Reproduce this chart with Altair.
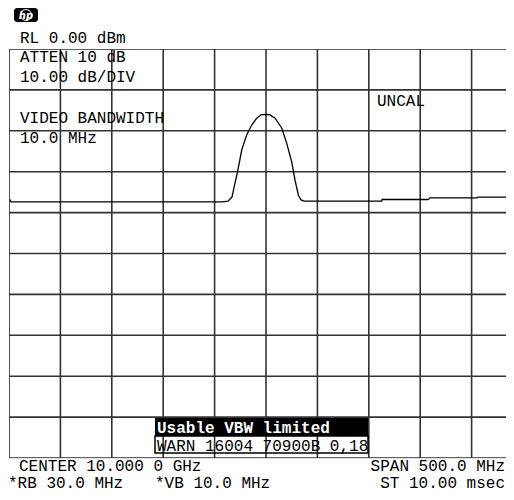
import altair as alt
import pandas as pd

# ---- data ----
grid_freq = [9750, 9800, 9850, 9900, 9950, 10000, 10050, 10100, 10150, 10200]  # MHz, 50 MHz/div
grid_level = [0, -10, -20, -30, -40, -50, -60, -70, -80, -90, -100]           # dBm, 10 dB/div

trace_freq = [9751.0, 9751.9, 9957.2, 9963.0, 9966.9, 9969.4, 9972.1, 9976.4, 9981.2,
              9986.1, 9991.0, 9995.1, 9999.0, 10003.9, 10008.8, 10015.3, 10020.1,
              10025.0, 10028.2, 10031.4, 10034.1, 10037.0, 10112.6, 10112.9, 10157.9,
              10159.6, 10205.3, 10206.3, 10241.3]
trace_level = [-36.8, -37.4, -37.4, -37.2, -36.2, -33.3, -30.3, -24.7, -21.0,
               -18.6, -16.9, -16.1, -16.0, -16.1, -16.9, -19.3, -23.0,
               -27.6, -32.0, -35.7, -36.9, -37.2, -37.2, -36.8, -36.8,
               -36.4, -36.4, -36.2, -36.2]

labels_top = ["RL 0.00 dBm", "ATTEN 10 dB", "10.00 dB/DIV", "VIDEO BANDWIDTH", "10.0 MHz", "UNCAL"]
labels_bottom = ["CENTER 10.000 0 GHz", "SPAN 500.0 MHz", "*RB 30.0 MHz", "*VB 10.0 MHz", "ST 10.00 msec"]
msg_lines = ["Usable VBW limited", "WARN 16004 70900B 0,18"]

W, H = 497, 409
XDOM = [9750, 9750 + W * 50 / 51.4]
YDOM = [-100, 0]
FONT = "Liberation Mono"
FS = 16

xs = alt.Scale(domain=XDOM, zero=False, nice=False)
ys = alt.Scale(domain=YDOM, zero=False, nice=False)

gx = alt.Chart(pd.DataFrame({"f": grid_freq})).mark_rule(
    color="#333333", strokeWidth=1.6, clip=True
).encode(x=alt.X("f:Q", scale=xs, axis=None))

gy = alt.Chart(pd.DataFrame({"l": grid_level})).mark_rule(
    color="#333333", strokeWidth=1.6, clip=True
).encode(y=alt.Y("l:Q", scale=ys, axis=None))

trace = alt.Chart(pd.DataFrame({"f": trace_freq, "l": trace_level})).mark_line(
    color="black", strokeWidth=1.3, clip=True, interpolate="linear"
).encode(
    x=alt.X("f:Q", scale=xs, axis=None),
    y=alt.Y("l:Q", scale=ys, axis=None),
    order=alt.Order("f:Q"),
)


def txt(s, x, y, align="left", color="black", weight="normal", font=FONT, size=FS, style="normal"):
    return alt.Chart(pd.DataFrame({"t": [s]})).mark_text(
        font=font, fontSize=size, align=align, baseline="alphabetic", color=color,
        fontWeight=weight, fontStyle=style
    ).encode(text="t:N", x=alt.value(x), y=alt.value(y))


def box(x, x2, y, y2, fill=None, stroke=None, sw=1.0, radius=0):
    kw = {}
    if fill is not None:
        kw["fill"] = fill
    else:
        kw["fillOpacity"] = 0
    if stroke is not None:
        kw["stroke"] = stroke
        kw["strokeWidth"] = sw
    if radius:
        kw["cornerRadius"] = radius
    return alt.Chart(pd.DataFrame({"a": [0]})).mark_rect(**kw).encode(
        x=alt.value(x), x2=alt.value(x2), y=alt.value(y), y2=alt.value(y2)
    )


layers = [gx, gy, trace]

# top-left annotations
tops = [(11, -6), (11, 12.5), (11, 32.5), (11, 74), (11, 94.3), (368, 56.5)]
for s, (x, y) in zip(labels_top, tops):
    layers.append(txt(s, x, y))

# hp logo
layers.append(box(5, 29, -41, -27, fill="black", radius=3))
layers.append(alt.Chart(pd.DataFrame({"a": [0]})).mark_point(
    shape="circle", size=120, filled=False, color="white", strokeWidth=1.3
).encode(x=alt.value(17), y=alt.value(-34)))
layers.append(txt("hp", 17, -30.5, align="center", color="white", weight="bold",
                  font="DejaVu Sans", size=10, style="italic"))

# message box
layers.append(box(146, 359, 369, 387, fill="black"))
layers.append(box(146, 359, 387, 404, stroke="black", sw=1.5))
layers.append(txt(msg_lines[0], 148, 384, color="white", weight="bold"))
layers.append(txt(msg_lines[1], 148, 401.5))

# bottom annotations
bots = [(10, 422, "left"), (496, 422, "right"), (-1, 438.5, "left"), (146, 438.5, "left"), (496, 438.5, "right")]
for s, (x, y, a) in zip(labels_bottom, bots):
    layers.append(txt(s, x, y, align=a))

chart = alt.layer(*layers).properties(
    width=W, height=H,
    autosize=alt.AutoSizeParams(type="none"),
    padding={"left": 1, "top": 41, "right": 0, "bottom": 34},
).configure_view(stroke=None).configure(background="white")

chart.save("out.html", embed_options={"renderer": "svg", "actions": False})
